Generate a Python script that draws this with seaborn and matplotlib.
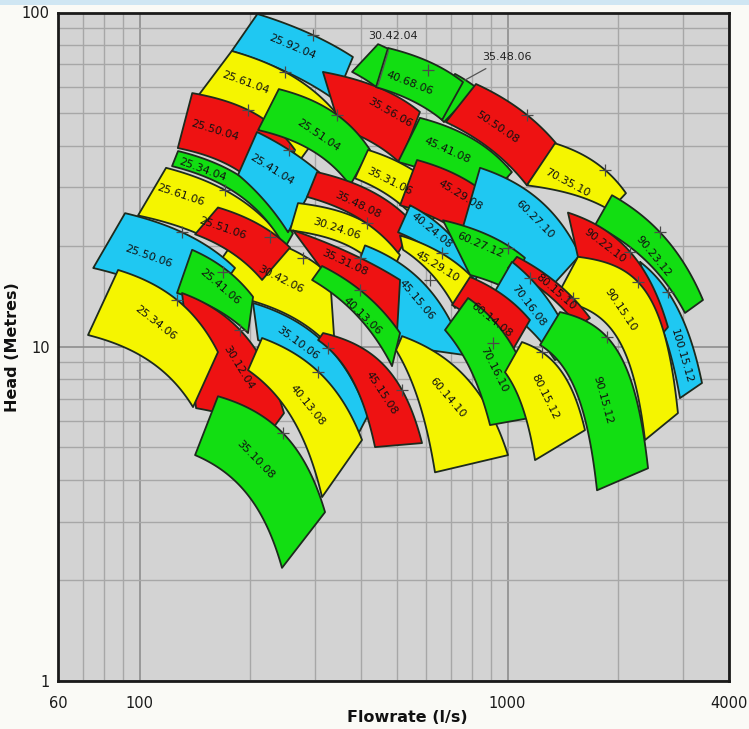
import numpy as np
import matplotlib
matplotlib.use("Agg")
import matplotlib.pyplot as plt
import seaborn as sns
from matplotlib.patches import Rectangle
from matplotlib.ticker import FixedLocator, FixedFormatter, LogLocator, NullFormatter

nan = np.nan

# ---------------- data (flow l/s, head m) ----------------
tile_labels = ["25.92.04", "25.61.04", "30.42.04", "35.48.06", "35.56.06", "40.68.06",
               "50.50.08", "25.50.04", "25.51.04", "45.41.08", "70.35.10", "100.15.12",
               "90.23.12", "30.42.06", "25.61.06", "25.34.04", "25.41.04", "35.31.06",
               "45.29.08", "60.27.10", "90.22.10", "25.50.06", "25.51.06", "30.24.06",
               "35.48.08", "40.24.08", "60.27.12", "25.41.06", "30.12.04", "25.34.06",
               "45.15.06", "35.31.08", "40.13.06", "45.29.10", "90.15.10", "80.15.10",
               "70.16.08", "60.14.08", "35.10.06", "45.15.08", "40.13.08", "35.10.08",
               "60.14.10", "70.16.10", "80.15.12", "90.15.12"]
tile_series = ["cyan", "yellow", "green", "green", "red", "green",
               "red", "red", "green", "green", "yellow", "cyan",
               "green", "yellow", "yellow", "green", "cyan", "yellow",
               "red", "cyan", "red", "cyan", "red", "yellow",
               "red", "cyan", "green", "green", "red", "yellow",
               "cyan", "red", "green", "yellow", "yellow", "red",
               "cyan", "red", "cyan", "red", "yellow", "green",
               "yellow", "green", "yellow", "green"]
# max-impeller curve: low-flow end (top_left) and high-flow end (top_right)
top_left_q = [209, 178, 444.7, 720, 315, 473.4, 821, 139, 239, 578, 1346, 2292,
              1923, 187.5, 118, 127.2, 208.5, 417.7, 567.6, 842, 1460, 91.3, 163.3, 269.5,
              303.6, 543.4, 667.8, 138.9, 130.4, 87.4, 409.9, 261.2, 313.3, 510.4, 1554, 1060.8,
              1028.4, 791, 203.4, 315.3, 215.2, 163.3, 516.8, 781.2, 1094.6, 1389]
top_left_h = [99, 76.7, 80.4, 65.5, 66.4, 78.3, 61.1, 57.4, 59.0, 48.4, 40.6, 17.95,
              28.4, 22.0, 34.3, 38.5, 43.9, 38.8, 36.2, 34.3, 25.2, 25.1, 26.1, 26.9,
              33.3, 26.5, 23.9, 19.5, 14.48, 16.97, 20.1, 22.3, 17.44, 21.53, 18.58, 18.58,
              17.95, 16.17, 13.52, 10.99, 10.62, 7.11, 10.76, 13.99, 10.33, 12.70]
top_right_q = [380, 340, 504, 826, 578, 757, 1355, 264.5, 423, 1028, 2099, 3378,
               3399, 329, 241, 261, 309.4, 685, 984, 1574, 2730, 181.7, 256.4, 510,
               560.6, 831.5, 1115, 203.4, 246.9, 163.3, 766.6, 510.4, 510.4, 805.9, 2906, 1675.7,
               1525.5, 1150.8, 417.7, 585.7, 402.3, 319.2, 1003, 1226, 1624, 2410]
top_right_h = [73.6, 50.4, 75.1, 59.4, 50.4, 61.9, 40.6, 38.8, 38.8, 33.3, 28.8, 7.79,
               13.8, 16.4, 21.4, 21.8, 33.1, 27.5, 25.2, 18.8, 11.45, 17.2, 19.8, 18.8,
               23.08, 16.4, 18.45, 14.1, 6.33, 9.64, 9.44, 15.84, 10.99, 16.06, 6.33, 12.19,
               9.77, 12.02, 6.24, 5.15, 5.26, 3.20, 4.74, 6.20, 5.63, 4.33]
# min-impeller curve ends
bottom_left_q = [178, 144, 378, 623, 350.6, 439.1, 680, 127, 209.9, 504, 1129, 2470,
                 1729, 146, 99, 122.5, 185.2, 385, 510.4, 752.3, 1554, 74.8, 141.5, 256.4,
                 285.1, 504, 791, 126.4, 142.4, 72.4, 373.3, 309.4, 294.3, 520.1, 1346, 1003,
                 896.1, 706.7, 209.9, 305.6, 197.1, 141.5, 497.8, 676.2, 984.3, 1226]
bottom_left_h = [76.7, 56.2, 66.4, 51.1, 45.1, 59.8, 47.0, 39.3, 44.5, 35.7, 30.4, 13.33,
                 23.1, 14.78, 24.7, 34.7, 32.7, 31.9, 26.5, 22.3, 18.58, 17.2, 21.7, 22.3,
                 28.08, 22.0, 16.4, 14.48, 6.55, 10.84, 15.3, 17.33, 15.84, 19.5, 13.8, 17.2,
                 13.8, 13.33, 10.47, 10.47, 8.51, 4.74, 9.77, 11.22, 8.39, 10.12]
bottom_right_q = [340, 273, 450.3, 672, 510.4, 664, 1129, 226, 373.3, 853, 1899, 2943,
                  3037, 340, 197, 248.5, 253.2, 597, 868.8, 1304.7, 2630, 146, 215.2, 473,
                  504, 791, 1015.6, 197.1, 226.2, 139.7, 516.8, 500.9, 485.4, 720.1, 2365, 1554,
                  1346, 1003, 385.1, 436.4, 313.3, 243.8, 635.2, 896.4, 1188, 1751]
bottom_right_h = [54.7, 36.2, 58.6, 47.0, 35.46, 47.7, 30.4, 27.5, 30.4, 26.5, 25.6, 7.02,
                  12.62, 9.64, 17.6, 19.8, 22.0, 22.3, 18.8, 14.98, 10.91, 12.19, 15.84, 15.84,
                  19.1, 14.78, 14.78, 10.99, 5.55, 6.6, 10.03, 11.07, 8.75, 13.06, 5.26, 11.53,
                  9.12, 9.25, 5.26, 5.01, 3.55, 2.18, 4.21, 5.83, 4.58, 3.72]
# best-efficiency points (the + marks) on the max-impeller curve
bep_q = [296, 248.5, nan, nan, nan, nan, 1129, 197, 344, nan, 1841, 2730,
         2597, nan, 170.7, nan, 254.8, nan, nan, nan, 2153, 130.4, nan, 415,
         nan, nan, nan, nan, 187.5, 126.4, nan, 397.3, 397.3, nan, 2263, 1506.5,
         1150.8, nan, nan, 516.8, nan, 245.4, nan, nan, 1241, 1864]
bep_h = [85.6, 66.4, nan, nan, nan, nan, 49.4, 51.1, 49.4, nan, 33.8, 14.58,
         22.0, nan, 29.4, nan, 38.8, nan, nan, nan, 19.23, 22.0, nan, 23.4,
         nan, nan, nan, nan, 11.22, 13.8, nan, 18.45, 14.78, nan, 15.62, 13.99,
         16.06, nan, nan, 7.42, nan, 5.51, nan, nan, 9.64, 10.69]
# further + marks visible on the chart
extra_mark_q = [226.2, 168.5, 615.8, 663.7, 913.1, 1003, 608.1, 325.3, 305.5, 278.1]
extra_mark_h = [21.24, 16.74, 15.84, 19.1, 10.26, 19.8, 67.3, 9.91, 8.39, 18.45]
# where each tile's name is written
label_q = [260, 193.5, nan, nan, 479, 543, 936, 160, 305.5, 685, 1451, 2980,
           2486, 242, 128.8, 147.8, 229.1, 479, 743, 1188, 1841, 105.4, 167.5, 344,
           392.4, 623.4, 842, 165.4, 186.3, 110.1, 567.6, 361.7, 402.3, 643.2, 2035, 1354.6,
           1143.7, 907.4, 269.5, 453.1, 285.1, 207.2, 689.1, 918.8, 1265, 1818]
label_h = [78.8, 61.5, nan, nan, 50.1, 61.5, 45.4, 44.5, 43.0, 38.8, 30.9, 9.38,
           18.7, 15.95, 28.4, 33.8, 33.8, 31.3, 28.3, 24.07, 20.05, 18.6, 22.6, 22.6,
           26.5, 22.3, 20.1, 15.09, 8.69, 11.77, 13.8, 17.83, 12.36, 17.33, 12.88, 14.58,
           13.24, 12.02, 10.26, 7.27, 6.69, 4.58, 7.02, 8.51, 7.06, 6.92]

callout_labels = ["30.42.04", "35.48.06"]
callout_text_q = [488, 997]
callout_text_h = [85.0, 73.6]
callout_target_q = [445, 767]
callout_target_h = [60.7, 62.8]

x_ticks = [60, 100, 1000, 4000]
x_tick_labels = ["60", "100", "1000", "4000"]
y_ticks = [1, 10, 100]
y_tick_labels = ["1", "10", "100"]

palette = {"cyan": "#1fc8f2", "yellow": "#f5f500", "green": "#12de12", "red": "#ee1212"}

# ---------------- style ----------------
sns.set_theme(style="white")
plt.rcParams["font.family"] = ["DejaVu Sans"]

fig = plt.figure(figsize=(7.49, 7.29), dpi=100)
fig.patch.set_facecolor("#fafaf6")
fig.add_artist(Rectangle((0, 1 - 5 / 729), 1, 5 / 729, transform=fig.transFigure,
                         facecolor="#cfe6f3", edgecolor="none", zorder=0))
ax = fig.add_axes([58 / 749, 1 - 681 / 729, (729 - 58) / 749, (681 - 12.5) / 729])
ax.set_xscale("log")
ax.set_yscale("log")
ax.set_xlim(60, 4000)
ax.set_ylim(1, 100)
ax.set_facecolor("#d3d3d3")

ax.xaxis.set_major_locator(FixedLocator(x_ticks))
ax.xaxis.set_major_formatter(FixedFormatter(x_tick_labels))
ax.yaxis.set_major_locator(FixedLocator(y_ticks))
ax.yaxis.set_major_formatter(FixedFormatter(y_tick_labels))
for axis in (ax.xaxis, ax.yaxis):
    axis.set_minor_locator(LogLocator(base=10, subs=np.arange(2, 10), numticks=30))
    axis.set_minor_formatter(NullFormatter())
ax.grid(which="minor", color="#a7a7a7", lw=1.0)
ax.grid(which="major", color="#8e8e8e", lw=1.2)
ax.set_axisbelow(True)
ax.tick_params(which="both", length=0)
ax.tick_params(axis="x", labelsize=10.5, pad=11, colors="#1a1a1a")
ax.tick_params(axis="y", labelsize=10.5, pad=6, colors="#1a1a1a")
for s in ax.spines.values():
    s.set_color("#1a1a1a")
    s.set_linewidth(2.0)
    s.set_zorder(200)

ax.set_xlabel("Flowrate (l/s)", fontsize=11.5, fontweight="bold", color="#111")
ax.set_ylabel("Head (Metres)", fontsize=11.5, fontweight="bold", color="#111")
ax.xaxis.set_label_coords(0.52, -0.043)
ax.yaxis.set_label_coords(-0.056, 0.5)


# ---------------- geometry helpers ----------------
def shape_exponent(q1, h1, qm, hm, q2, h2):
    if not (np.isfinite(qm) and np.isfinite(hm)):
        return 2.0
    xm, x2 = qm / q1, q2 / q1
    t = (h1 - hm) / (h1 - h2)

    def g(n):
        if abs(n) < 1e-9:
            return np.log(xm) / np.log(x2)
        return (xm ** n - 1) / (x2 ** n - 1)

    lo, hi = -12.0, 12.0
    t = min(max(t, g(hi) + 1e-9), g(lo) - 1e-9)
    for _ in range(80):
        mid = 0.5 * (lo + hi)
        if g(mid) > t:
            lo = mid
        else:
            hi = mid
    return 0.5 * (lo + hi)


def pump_curve(q1, h1, q2, h2, n, num=80):
    q = np.geomspace(q1, q2, num)
    x, x2 = q / q1, q2 / q1
    if abs(n) < 1e-9:
        frac = np.log(x) / np.log(x2)
    else:
        frac = (x ** n - 1) / (x2 ** n - 1)
    return q, h1 - (h1 - h2) * frac


top_curves = []
for i, name in enumerate(tile_labels):
    n = shape_exponent(top_left_q[i], top_left_h[i], bep_q[i], bep_h[i],
                       top_right_q[i], top_right_h[i])
    tq, th = pump_curve(top_left_q[i], top_left_h[i], top_right_q[i], top_right_h[i], n)
    bq, bh = pump_curve(bottom_left_q[i], bottom_left_h[i],
                        bottom_right_q[i], bottom_right_h[i], n)
    xs = np.concatenate([tq, bq[::-1]])
    ys = np.concatenate([th, bh[::-1]])
    ax.fill(xs, ys, facecolor=palette[tile_series[i]], edgecolor="#1d2a1d",
            lw=1.3, joinstyle="round", zorder=10 + i)
    top_curves.append((tq, th))

# + marks
mark_x = [q for q in bep_q if np.isfinite(q)] + extra_mark_q
mark_y = [h for h in bep_h if np.isfinite(h)] + extra_mark_h
sns.scatterplot(x=mark_x, y=mark_y, marker="+", s=80, color="#4a4a4a",
                linewidth=0.9, ax=ax, zorder=100, legend=False)


def label_angle(tq, th, lq, lh):
    pts = ax.transData.transform(np.column_stack([tq, th]))
    p = ax.transData.transform((lq, lh))
    k = int(np.argmin(((pts - p) ** 2).sum(axis=1)))
    i0, i1 = max(k - 3, 0), min(k + 3, len(pts) - 1)
    d = pts[i1] - pts[i0]
    return np.degrees(np.arctan2(d[1], d[0]))


for i, name in enumerate(tile_labels):
    if not np.isfinite(label_q[i]):
        continue
    tq, th = top_curves[i]
    ang = label_angle(tq, th, label_q[i], label_h[i])
    ax.text(label_q[i], label_h[i], name, rotation=ang, rotation_mode="anchor",
            ha="center", va="center", fontsize=8, color="#111", zorder=150)

for j, name in enumerate(callout_labels):
    ax.annotate(name, xy=(callout_target_q[j], callout_target_h[j]),
                xytext=(callout_text_q[j], callout_text_h[j]), textcoords="data",
                ha="center", va="center", fontsize=8, color="#222", zorder=160,
                arrowprops=dict(arrowstyle="-", color="#555", lw=0.9, shrinkA=5, shrinkB=0))

fig.savefig("out.png", dpi=100, facecolor=fig.get_facecolor())
